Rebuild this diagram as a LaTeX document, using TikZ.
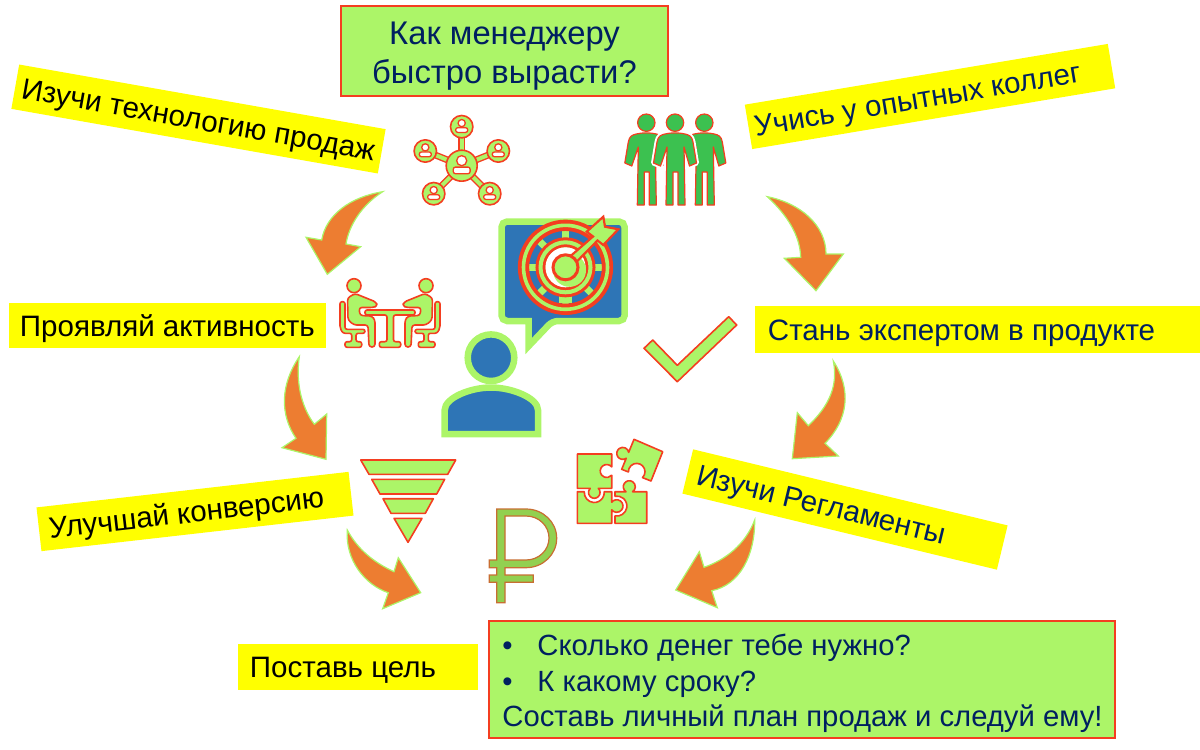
\documentclass[tikz,border=0pt]{standalone}
\usepackage{fontspec}
\setmainfont{Liberation Sans}
\definecolor{planlime}{RGB}{172,245,104}
\definecolor{planred}{RGB}{244,62,32}
\definecolor{planyellow}{RGB}{255,255,0}
\definecolor{plannavy}{RGB}{0,32,96}
\definecolor{planorange}{RGB}{237,125,49}
\definecolor{planblue}{RGB}{46,117,182}
\definecolor{plangreen}{RGB}{60,193,80}
\definecolor{planruble}{RGB}{146,208,80}
\definecolor{planbrown}{RGB}{200,110,50}
\usetikzlibrary{positioning}
\newcommand{\px}{0.7113pt}
\newdimen\pxunit \pxunit=0.7113pt
\newcommand{\flushrow}[2]{\makebox[#1\pxunit][l]{#2}}
\tikzset{
  stickerbox/.style={fill=planyellow, inner xsep=#1*\px, inner ysep=0pt, text height=17pt, text depth=2pt, font=\fontsize{21}{26}\selectfont},
  limebox/.style={fill=planlime, draw=planred, line width=1.5*\px, inner sep=0pt, text=plannavy},
  iconpart/.style={fill=planlime, draw=planred, line width=1.6*\px, line join=round},
  bentarrow/.style={fill=planorange, draw=planlime, line width=1.2*\px},
  frameline/.style={fill=planblue, draw=planlime, line width=6.5*\px}
}
\begin{document}
\begin{tikzpicture}[x=0.025cm, y=-0.025cm]
    \useasboundingbox (0,0) rectangle (1200,749);

    % Title and plan boxes
    \node[limebox, minimum width=327*\px, minimum height=90*\px, align=center, font=\fontsize{23.3}{27.7}\selectfont] (title) at (504.5,51) {\rule{0pt}{24pt}Как менеджеру\\быстро вырасти?};
    \node[limebox, minimum width=626*\px, minimum height=117*\px, font=\fontsize{20.8}{25.3}\selectfont, align=center] (plan) at (802,679.5) {\rule{0pt}{21pt}\flushrow{599}{\makebox[35\pxunit][l]{•}Сколько денег тебе нужно?}\\\flushrow{599}{\makebox[35\pxunit][l]{•}К какому сроку?}\\\flushrow{599}{Составь личный план продаж и следуй ему!}};

    % Yellow stickers
    \node[stickerbox=7, minimum height=45*\px, rotate=-10] (studysales) at (198.5,119) {\flushrow{358}{Изучи технологию продаж}};
    \node[stickerbox=6, minimum height=45*\px, rotate=9.5, text=plannavy] (learnpeers) at (930,96.5) {\flushrow{356}{Учись у опытных коллег}};
    \node[stickerbox=11, minimum height=45*\px] (beactive) at (167.5,325.5) {\flushrow{295}{Проявляй активность}};
    \node[stickerbox=13, minimum height=47*\px, text=plannavy] (expert) at (977.5,329.5) {\flushrow{419}{Стань экспертом в продукте}};
    \node[stickerbox=10, minimum height=44*\px, rotate=6.5] (conversion) at (195,511.5) {\flushrow{294}{Улучшай конверсию}};
    \node[stickerbox=10, minimum height=45.5*\px, rotate=-13.6, text=plannavy] (rules) at (845,509.5) {\flushrow{303.5}{Изучи Регламенты}};
    \node[stickerbox=12, minimum height=46*\px] (setgoal) at (358,667) {\flushrow{216}{Поставь цель}};

    % Bent arrows
    \draw[bentarrow] (382.7,191.7) .. controls (350,197) and (326,215) .. (321.7,240) -- (306,237.3) -- (327.3,274.3) -- (360.7,246.7) -- (346,244) .. controls (349,225) and (362,205) .. (382.7,191.7) -- cycle;
    \draw[bentarrow] (299.3,356.7) .. controls (280,385) and (280,415) .. (296,438.3) -- (282,447.7) -- (326,459.3) -- (326.7,414) -- (314.3,424.3) .. controls (300,405) and (296,380) .. (299.3,356.7) -- cycle;
    \draw[bentarrow] (767.3,196.7) .. controls (800,203) and (826,225) .. (826,254) -- (843.3,254) -- (816,290.7) -- (784.3,258.3) -- (800.7,257.3) .. controls (800,235) and (787,215) .. (767.3,196.7) -- cycle;
    \draw[bentarrow] (833.3,361) .. controls (852,390) and (848,420) .. (825,443.3) -- (838.3,456) -- (792.3,458.7) -- (797.3,412.7) -- (808.3,425.7) .. controls (830,405) and (838,385) .. (833.3,361) -- cycle;
    \draw[bentarrow] (347.3,530) .. controls (345,560) and (365,585) .. (388.3,592.7) -- (382.7,608.7) -- (420.7,592.7) -- (398.3,557.7) -- (394,571.7) .. controls (375,563) and (358,550) .. (347.3,530) -- cycle;
    \draw[bentarrow] (754.7,520) .. controls (755,555) and (740,585) .. (711.7,590.7) -- (717.3,607.7) -- (675.7,590) -- (699.3,551.7) -- (704,567.3) .. controls (725,560) and (745,545) .. (754.7,520) -- cycle;

    % Network icon
    \coordinate (hub) at (461.7,165.7);
    \foreach \hx/\hy in {461.7/126.7, 498.3/151, 489.7/193.7, 433.7/193.7, 425.3/151}
      \draw[draw=planred, line width=1.4*\px, double=planlime, double distance=4*\px] (hub) -- (\hx,\hy);
    \foreach \hx/\hy/\s/\r in {461.7/126.7/1/11.2, 498.3/151/1/11.2, 489.7/193.7/1/11.2, 433.7/193.7/1/11.2, 425.3/151/1/11.2, 461.7/165.7/1.4/15.5} {
      \draw[iconpart] (\hx,\hy) circle (\r);
      \draw[fill=white, draw=planred, line width=1.3*\px] (\hx,\hy-3.6*\s) circle (3.6*\s);
      \draw[fill=white, draw=planred, line width=1.3*\px, rounded corners=1.5] (\hx-6*\s,\hy+5.7*\s) rectangle (\hx+6*\s,\hy+1*\s);
    }

    % Three colleagues
    \foreach \cx/\halo in {646.3/0, 704.3/0, 675/1} {
      \ifnum\halo=1
        \draw[white, line width=5*\px, line join=round] (\cx-10,133.5) .. controls (\cx-14,135) and (\cx-17,136) .. (\cx-18,142) -- (\cx-21.5,163) -- (\cx-14.5,166) -- (\cx-8,147) -- (\cx-9,205) -- (\cx+10,205) -- (\cx+9,147) -- (\cx+14.5,166) -- (\cx+21.5,163) -- (\cx+18,142) .. controls (\cx+17,136) and (\cx+14,135) .. (\cx+10,133.5) -- cycle;
      \fi
      \draw[fill=plangreen, draw=planred, line width=1.2*\px] (\cx,122.7) circle (8.7);
      \draw[fill=plangreen, draw=planred, line width=1.2*\px, line join=round] (\cx-10,134) .. controls (\cx-14,135) and (\cx-17,136) .. (\cx-18,142) -- (\cx-21.5,163) -- (\cx-14.5,166) -- (\cx-8,147) -- (\cx-9,205) -- (\cx-2,205) -- (\cx-2,172) -- (\cx+3,172) -- (\cx+3,205) -- (\cx+10,205) -- (\cx+9,147) -- (\cx+14.5,166) -- (\cx+21.5,163) -- (\cx+18,142) .. controls (\cx+17,136) and (\cx+14,135) .. (\cx+10,134) .. controls (\cx+4,132.5) and (\cx-4,132.5) .. (\cx-10,134) -- cycle;
    }

    % Speech bubble with target
    \draw[frameline, line join=miter, rounded corners=4] (501.5,221.5) -- (624.7,221.5) -- (624.7,321) -- (552.5,321) [sharp corners] -- (528.7,346) -- (528.7,321) [rounded corners=4] -- (501.5,321) -- cycle;
    \foreach \a in {-90,-45,0,45,90,135,180,225}
      \draw[planlime, line width=7*\px] (565.5,267.3) -- ++(\a:37);
    \draw[planlime, line width=13*\px] (565.5,267.3) -- ++(90:36);
    \draw[planred, line width=11.3*\px] (565.5,267.3) circle (42);
    \draw[planlime, line width=3.6*\px] (565.5,267.3) circle (42);
    \fill[planlime] (565.5,267.3) circle (27);
    \draw[planred, line width=10*\px] (565.5,267.3) circle (25);
    \draw[planlime, line width=4*\px] (565.5,267.3) circle (25);
    \fill[white] (565.5,267.3) circle (20);
    \fill[planlime] (569.5,270.3) circle (16.5);
    \draw[planred, line width=2.2*\px, fill=planlime, line join=miter] (562,263.5) -- (593,236.5) -- (586.7,231.7) -- (603.3,216.7) -- (605,226.7) -- (618.3,229.3) -- (603.3,245) -- (597.5,240.5) -- (568,270.5) -- cycle;
    \draw[fill=planlime, draw=planred, line width=3*\px] (565.5,267.3) circle (12.5);

    % Person
    \draw[frameline] (491,357.7) circle (23.3);
    \draw[frameline, line join=miter] (444.7,434) -- (444.7,410) .. controls (444.7,398) and (470,387.5) .. (491,387.5) .. controls (512,387.5) and (538,398) .. (538,410) -- (538,434) -- cycle;

    % People at the table
    \draw[iconpart, rounded corners=1.5] (365,310) -- (415,310) -- (415,315) -- (393.5,315) -- (393.5,341.7) -- (400.7,341.7) -- (400.7,347.3) -- (379.3,347.3) -- (379.3,341.7) -- (387,341.7) -- (387,315) -- (365,315) -- cycle;
    \foreach \s/\o in {1/0,-1/780} {
      \begin{scope}[shift={(\o,0)}, xscale=\s]
        \draw[iconpart] (354,285.7) circle (7);
        \draw[iconpart, rounded corners=1.5] (340,301.7) -- (345,301.7) -- (345,329.3) -- (365,329.3) -- (365,333.3) -- (356,333.3) -- (356,341.7) -- (361.7,341.7) -- (361.7,347.3) -- (345,347.3) -- (345,341.7) -- (351.7,341.7) -- (351.7,333.3) -- (343,333.3) -- (340,328) -- cycle;
        \draw[iconpart, rounded corners=2] (347.5,298) -- (355,293.5) -- (376,302) -- (377.5,306) -- (373,307.5) -- (359,307.5) -- (360,315.5) -- (372,316) -- (375,320) -- (375,347) -- (369,347) -- (368,325) -- (354,325) -- (348,320) -- cycle;
      \end{scope}
    }

    % Check mark
    \draw[iconpart] (644,348.3) -- (652.7,340) -- (677.3,365.3) -- (728.7,316.7) -- (736.7,325) -- (677.3,381.7) -- cycle;

    % Funnel
    \draw[iconpart] (360.7,460) -- (455.7,460) -- (447.7,474.3) -- (369,474.3) -- cycle;
    \draw[iconpart] (371.7,479.3) -- (444.7,479.3) -- (436.7,494) -- (380,494) -- cycle;
    \draw[iconpart] (383,498.7) -- (433.3,498.7) -- (425.3,513.3) -- (391,513.3) -- cycle;
    \draw[iconpart] (394,518.3) -- (422,518.3) -- (408,542.3) -- cycle;

    % Ruble sign
    \draw[fill=planruble, draw=planbrown, line width=1.2*\px, even odd rule] (496.7,509) -- (526,509) .. controls (543,509) and (556.7,522) .. (556.7,538.3) .. controls (556.7,554.5) and (543,567.7) .. (526,567.7) -- (505,567.7) -- (505,575) -- (533.3,575) -- (533.3,582.3) -- (505,582.3) -- (505,602.7) -- (496.7,602.7) -- (496.7,582.3) -- (489.3,582.3) -- (489.3,575) -- (496.7,575) -- (496.7,567.7) -- (489.3,567.7) -- (489.3,560) -- (496.7,560) -- cycle
      (505,516) -- (505,560) -- (526,560) .. controls (539,560) and (549,550) .. (549,538) .. controls (549,526) and (539,516) .. (526,516) -- cycle;

    % Puzzle
    \draw[iconpart] (577.3,454) -- (611.7,454) -- (611.7,466.85) arc[start angle=-40, end angle=-320, radius=6.5] -- (611.7,488.3) -- (598.3,488.3) arc[start angle=-46, end angle=226, radius=5.8] -- (577.3,488.3) -- cycle;
    \draw[iconpart] (577.3,491.7) -- (584.3,491.7) arc[start angle=184.6, end angle=-4.6, radius=10] -- (611.7,491.7) -- (611.7,502.2) arc[start angle=-142.6, end angle=142.6, radius=6.3] -- (611.7,523.3) -- (577.3,523.3) -- cycle;
    \draw[iconpart] (615,491.7) -- (626,491.7) arc[start angle=123.4, end angle=416.6, radius=6] -- (646.7,491.7) -- (646.7,523.3) -- (615,523.3) -- (615,515.84) arc[start angle=100.9, end angle=-100.9, radius=10] -- cycle;
    \draw[iconpart] (621.7,469.3) -- (626.2,458.3) arc[start angle=55, end angle=350, radius=6] -- (634,439.3) -- (662.7,451.7) -- (651,481) -- (642.5,477.6) arc[start angle=45.5, end angle=-182, radius=8.3] -- cycle;
\end{tikzpicture}
\end{document}
